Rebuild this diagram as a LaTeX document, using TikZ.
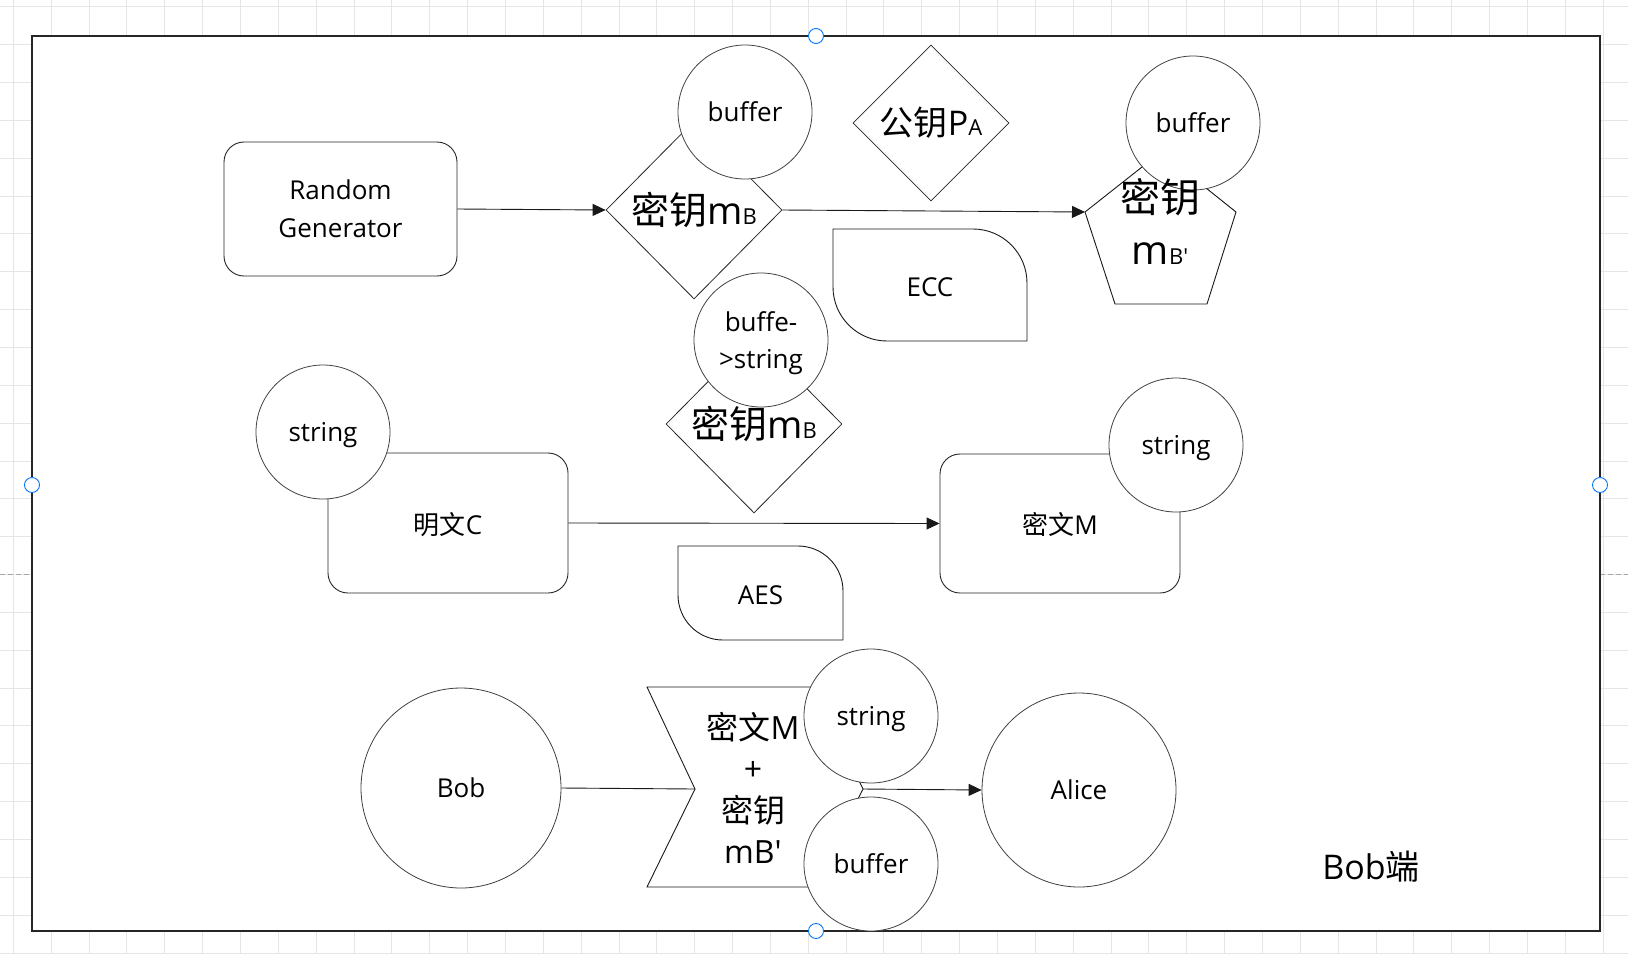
\documentclass[tikz,border=0pt]{standalone}
\usepackage{fontspec}
\setmainfont{Open Sans}
\newfontfamily\cjk{Noto Sans CJK SC}
\usetikzlibrary{arrows.meta,shapes.geometric,positioning}

\begin{document}
\begin{tikzpicture} [x=1pt,y=-1pt,{box/.style={rectangle,rounded corners=20pt,draw=black!85,line width=0.9pt,fill=white,inner sep=0pt,align=center,font=\fontsize{26}{37.7}\selectfont}},{ball/.style={circle,draw=black!75,line width=0.8pt,fill=white,minimum size=134pt,inner sep=0pt,text depth=0pt,align=center,font=\fontsize{26}{37.7}\selectfont}},{gem/.style={diamond,draw=black!85,line width=0.8pt,fill=white,inner sep=0pt,minimum width=176pt,minimum height=178pt}},{linest/.style={draw=black!90,line width=0.9pt}},{arr/.style={linest,-{Triangle[length=13pt,width=12pt]}}},{lbl/.style={inner sep=0pt,text depth=0pt,align=center,font=\fontsize{26}{37.7}\selectfont}},{gridline/.style={color=black!10,line width=0.8pt}},{handle/.style={circle,draw=blue!55!cyan,fill=white,line width=0.9pt,minimum size=15pt,inner sep=0pt}}]
		\useasboundingbox (0,0) rectangle (1628,954);
		%%canvas
		\fill [white] (0,0) rectangle (1628,954);
		\foreach \i in {0,...,42} \draw [gridline] ({13.3+37.85*\i},0) -- ({13.3+37.85*\i},954);
		\foreach \j in {0,...,25} \draw [gridline] (0,{6.7+37.85*\j}) -- (1628,{6.7+37.85*\j});
		\draw [gray!70,dash pattern=on 5pt off 3pt] (0,574) -- (1628,574);
		\draw [line width=1.3pt,draw=black!85,fill=white] (32,36) rectangle (1600,931);
		%%key generation
		\node at (340.5,209) [box,minimum width=233pt,minimum height=134pt] (rng) {Random\\Generator};
		\node at (694,210) [gem] (keyB) {\fontsize{38}{40}\selectfont{\cjk 密钥}m{\fontsize{22}{24}\selectfont B}};
		\node at (745,112) [ball] (buf1) {buffer};
		\node at (931,123) [gem,minimum width=156pt,minimum height=156pt] (pubA) {\fontsize{34}{36}\selectfont{\cjk 公钥}P{\fontsize{22}{24}\selectfont A}};
		\coordinate (p1) at (1161,152);
		\coordinate (p2) at (1085,212);
		\coordinate (p3) at (1115,304);
		\coordinate (p4) at (1207,304);
		\coordinate (p5) at (1236,212);
		\draw [linest,fill=white] (p1) -- (p2) -- (p3) -- (p4) -- (p5) -- cycle;
		\node at (1193,123) [ball] (buf2) {buffer};
		\node at (1160,221) [inner sep=0pt,align=center,font=\fontsize{40}{52}\selectfont] (keyBp) {{\cjk 密钥}\\m{\fontsize{22}{24}\selectfont B\textquotesingle}};
		\draw [linest,fill=white] (833,229) -- (973,229) arc [start angle=-90,end angle=0,radius=54] -- (1027,341) -- (887,341) arc [start angle=90,end angle=180,radius=54] -- cycle;
		\node at (930,287) [lbl] (ecc) {ECC};
		\draw [arr] (rng.east) -- (keyB.west);
		\draw [arr] (keyB.east) -- (p2);
		%%encryption
		\node at (754,424) [gem] (keyB2) {\fontsize{38}{40}\selectfont{\cjk 密钥}m{\fontsize{22}{24}\selectfont B}};
		\node at (761,340) [ball] (conv) {buffe-\\>string};
		\node at (448,523) [box,minimum width=240pt,minimum height=140pt,text depth=0pt] (plainC) {{\cjk 明文}C};
		\node at (323,432) [ball] (str1) {string};
		\node at (1060,523.5) [box,minimum width=240pt,minimum height=139pt,text depth=0pt] (cipherM) {{\cjk 密文}M};
		\node at (1176,445) [ball] (str2) {string};
		\draw [linest,fill=white] (678,546) -- (798,546) arc [start angle=-90,end angle=0,radius=45] -- (843,640) -- (723,640) arc [start angle=90,end angle=180,radius=45] -- cycle;
		\node at (760.5,595) [lbl] (aes) {AES};
		\draw [arr] (plainC.east) -- (cipherM.west);
		%%sending
		\node at (461,788) [ball,minimum size=200pt] (bob) {Bob};
		\coordinate (s1) at (647,687);
		\coordinate (s2) at (813,687);
		\coordinate (s3) at (863,789);
		\coordinate (s4) at (813,887);
		\coordinate (s5) at (647,887);
		\coordinate (s6) at (695,789);
		\draw [linest,fill=white] (s1) -- (s2) -- (s3) -- (s4) -- (s5) -- (s6) -- cycle;
		\node at (753,788) [inner sep=0pt,align=center,font=\fontsize{32}{41.5}\selectfont] (pkg) {{\cjk 密文}M\\+\\{\cjk 密钥}\\mB\textquotesingle};
		\node at (871,716) [ball] (str3) {string};
		\node at (871,864) [ball] (buf3) {buffer};
		\node at (1079,790) [ball,minimum size=194pt] (alice) {Alice};
		\draw [linest] (bob.east) -- (s6);
		\draw [arr] (s3) -- (alice.west);
		\node at (1371,867) [inner sep=0pt,font=\fontsize{34}{40}\selectfont] (side) {Bob{\cjk 端}};
		%%handles
		\node at (816,36) [handle] (h1) {};
		\node at (816,931) [handle] (h2) {};
		\node at (32,485) [handle] (h3) {};
		\node at (1600,485) [handle] (h4) {};
	\end{tikzpicture}
\end{document}
